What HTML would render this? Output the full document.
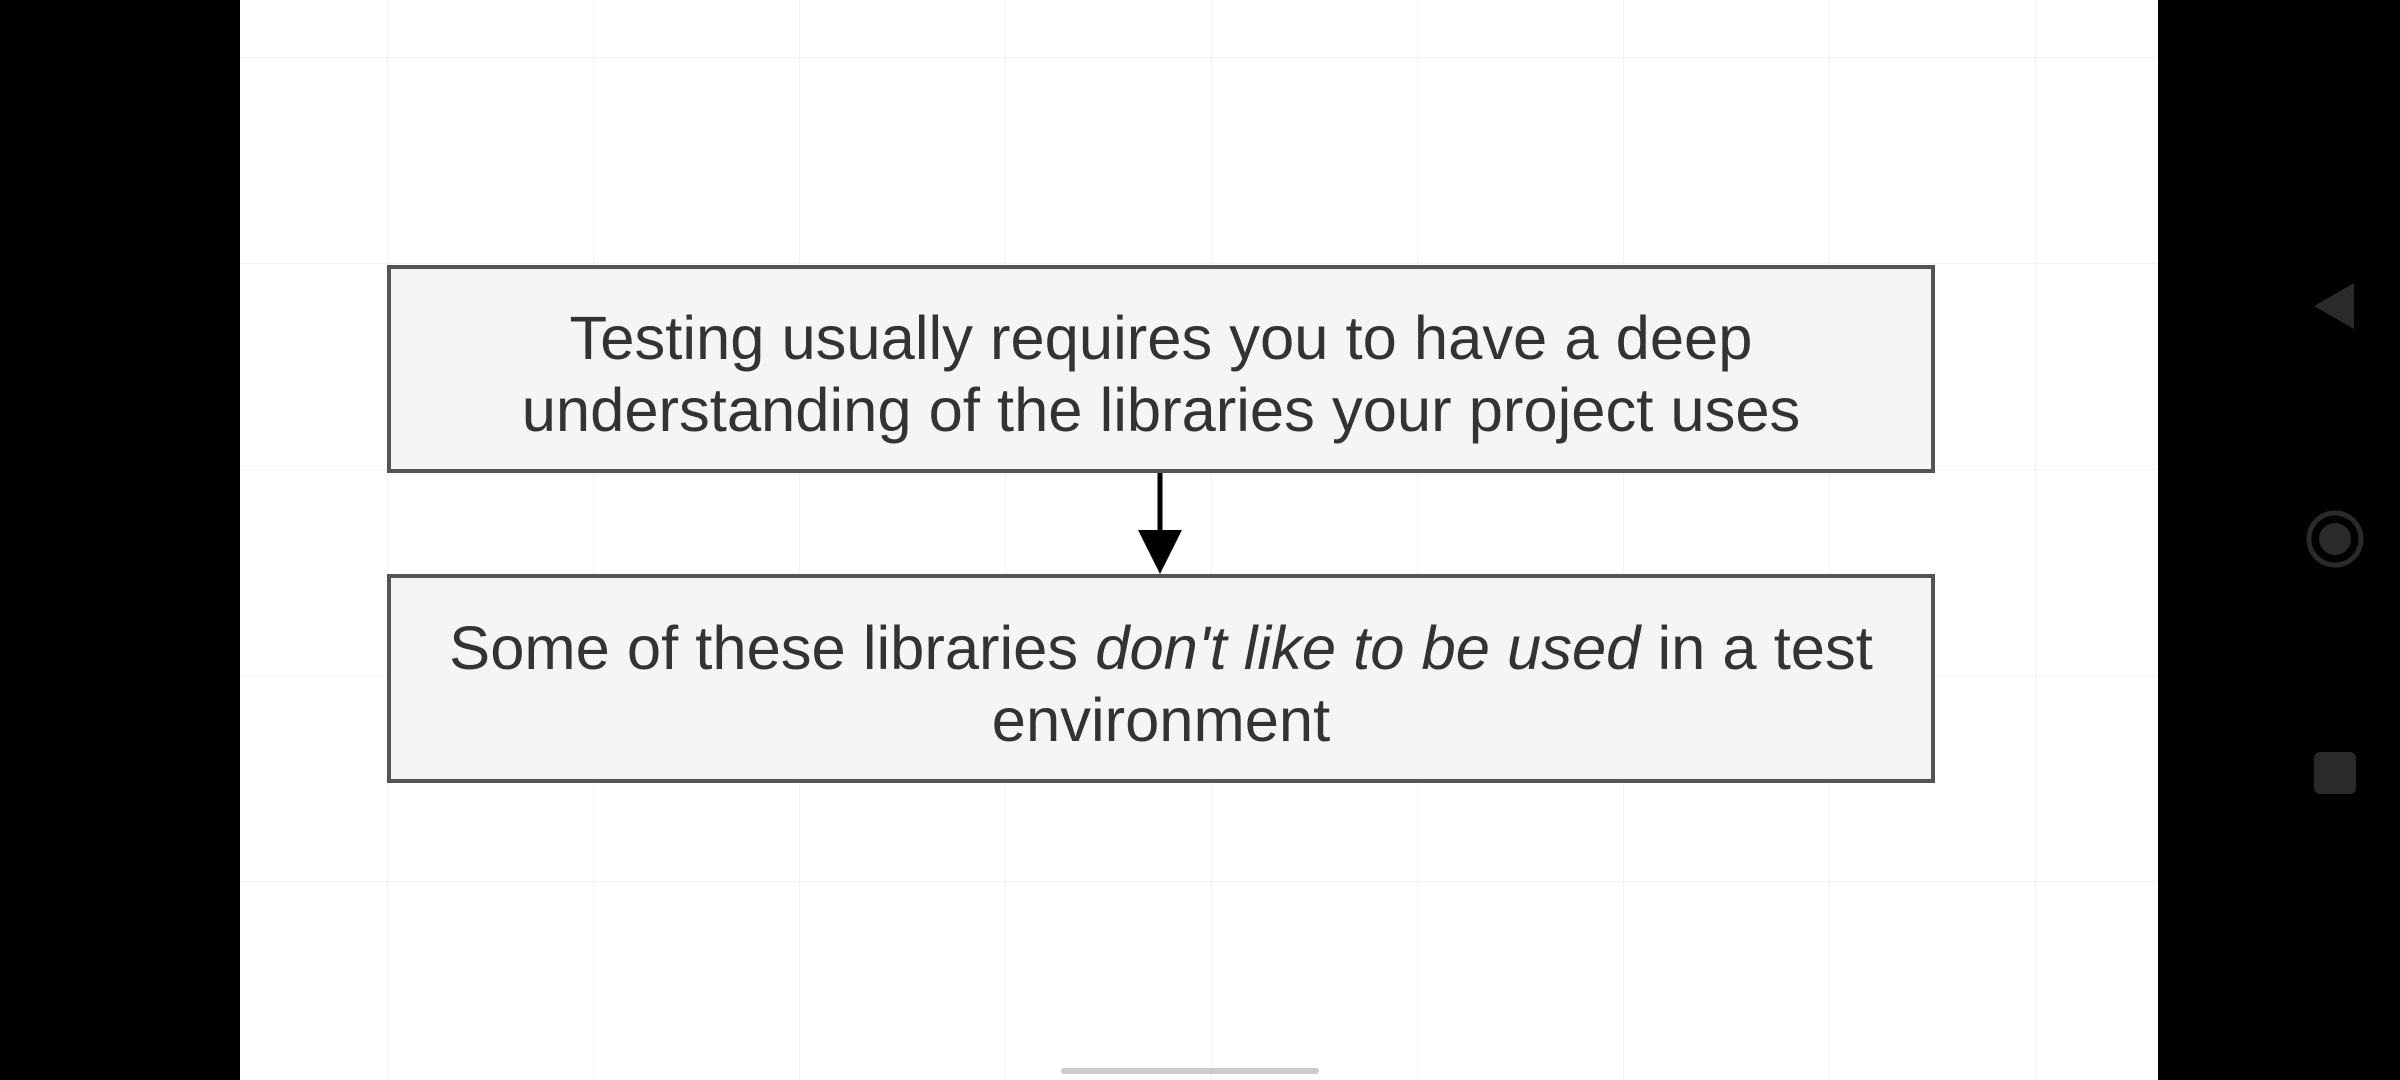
<!DOCTYPE html>
<html><head><meta charset="utf-8"><style>
html,body{margin:0;padding:0;background:#000;}
body{width:2400px;height:1080px;position:relative;overflow:hidden;font-family:"Liberation Sans",sans-serif;}
.page{position:absolute;left:240px;top:0;width:1918px;height:1080px;background:#fff;
background-image:linear-gradient(#f3f3f3 1px,transparent 1px),linear-gradient(90deg,#f3f3f3 1px,transparent 1px);
background-size:206px 206px;background-position:147px 57px;}
.box{position:absolute;left:387px;width:1540px;background:#f5f5f5;border:4px solid #555;display:flex;align-items:center;justify-content:center;text-align:center;font-size:61.5px;line-height:72px;color:#333;box-sizing:content-box;}
.box span{position:relative;top:6px;}
</style></head><body>
<div class="page"></div>
<div class="box" style="top:265px;height:200px;"><span>Testing usually requires you to have a deep<br>understanding of the libraries your project uses</span></div>
<div class="box" style="top:574px;height:201px;"><span>Some of these libraries <i>don't like to be used</i> in a test<br>environment</span></div>
<svg style="position:absolute;left:0;top:0" width="2400" height="1080">
<line x1="1160" y1="473" x2="1160" y2="540" stroke="#000" stroke-width="5"/>
<polygon points="1138,530 1182,530 1160,574" fill="#000"/>
<polygon points="2314,306 2354,283 2354,329" fill="#2a2a2a"/>
<circle cx="2335" cy="539" r="26" fill="none" stroke="#2a2a2a" stroke-width="5"/>
<circle cx="2335" cy="539" r="16" fill="#2a2a2a"/>
<rect x="2314" y="752" width="42" height="42" rx="6" fill="#2a2a2a"/>
<rect x="1061" y="1068" width="258" height="6" rx="3" fill="#ccc"/>
</svg>
</body></html>
